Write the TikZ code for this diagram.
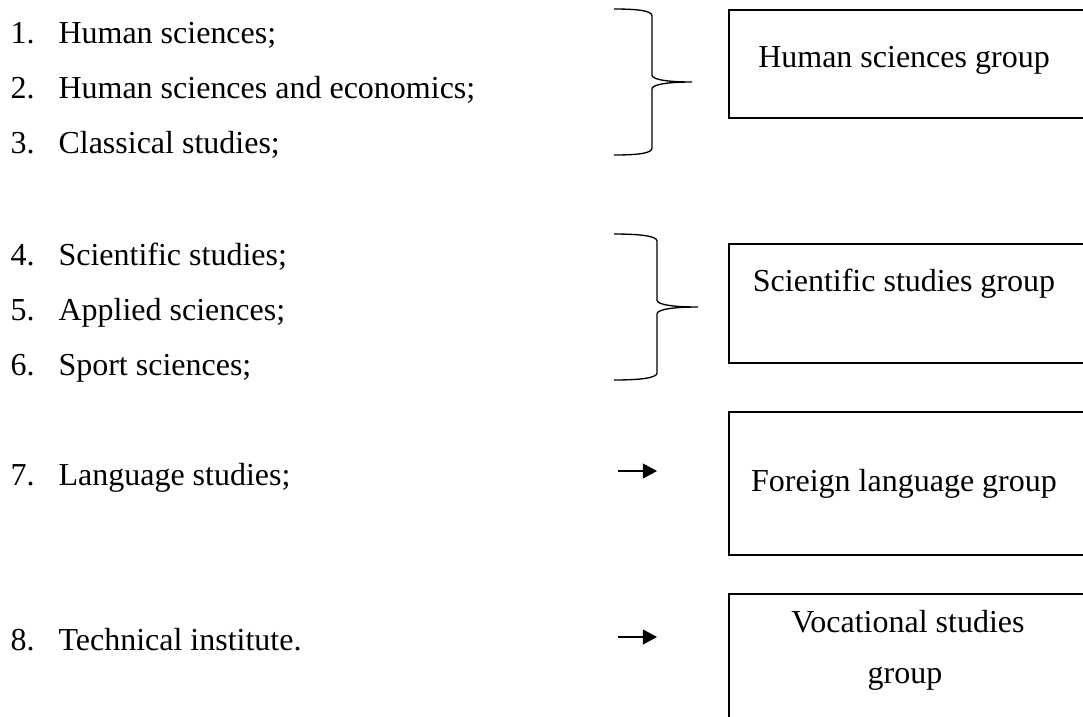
\documentclass[tikz,border=0pt]{standalone}
\usepackage{fontspec}
\setmainfont{Liberation Serif}
\usetikzlibrary{arrows.meta}

\begin{document}
\begin{tikzpicture}[x=0.375pt, y=-0.375pt,
  font=\fontsize{12}{14.4}\selectfont,
  item/.style={anchor=base west, inner sep=0pt},
  grpbox/.style={draw, line width=0.75pt, anchor=north west, minimum width=140pt, inner sep=0pt},
  grptext/.style={anchor=base, inner sep=0pt},
  grpbrace/.style={line width=0.5pt},
  arr/.style={line width=0.45pt, -{Triangle[length=5.3pt, width=5.6pt]}}]
  \clip (0,0) rectangle (1083,716);
  \fill[white] (0,0) rectangle (1083,716);
  \node[item] (it1) at (10,43) {\makebox[18pt][l]{1.}Human sciences;};
  \node[item] (it2) at (10,98) {\makebox[18pt][l]{2.}Human sciences and economics;};
  \node[item] (it3) at (10,153) {\makebox[18pt][l]{3.}Classical studies;};
  \node[item] (it4) at (10,265) {\makebox[18pt][l]{4.}Scientific studies;};
  \node[item] (it5) at (10,320) {\makebox[18pt][l]{5.}Applied sciences;};
  \node[item] (it6) at (10,375) {\makebox[18pt][l]{6.}Sport sciences;};
  \node[item] (it7) at (10,485) {\makebox[18pt][l]{7.}Language studies;};
  \node[item] (it8) at (10,650) {\makebox[18pt][l]{8.}Technical institute.};
  \draw[grpbrace] (614,9) .. controls (640,9) and (652,11) .. (652,16) -- (652,75)
    .. controls (652,80) and (670,82) .. (692,82) .. controls (670,82) and (652,84) .. (652,89)
    -- (652,148) .. controls (652,153) and (640,155) .. (614,155);
  \draw[grpbrace] (614,234) .. controls (640,234) and (657,236) .. (657,241) -- (657,300)
    .. controls (657,305) and (675,307) .. (698,307) .. controls (675,307) and (657,309) .. (657,314)
    -- (657,373) .. controls (657,378) and (640,380) .. (614,380);
  \coordinate (a7s) at (618,471);
  \coordinate (a7e) at (657,471);
  \coordinate (a8s) at (618,637);
  \coordinate (a8e) at (657,637);
  \draw[arr] (a7s) -- (a7e);
  \draw[arr] (a8s) -- (a8e);
  \node[grpbox, minimum height=40.5pt] (hbox) at (728,9) {};
  \node[grpbox, minimum height=44.6pt] (sbox) at (728,243) {};
  \node[grpbox, minimum height=53.6pt] (fbox) at (728,411) {};
  \node[grpbox, minimum height=60pt] (vbox) at (728,593) {};
  \node[grptext] (htext) at (904,67) {Human sciences group};
  \node[grptext] (stext) at (904,291) {Scientific studies group};
  \node[grptext] (ftext) at (904,491) {Foreign language group};
  \node[grptext] (vtext1) at (908,632) {Vocational studies};
  \node[grptext] (vtext2) at (905,683) {group};
\end{tikzpicture}
\end{document}
